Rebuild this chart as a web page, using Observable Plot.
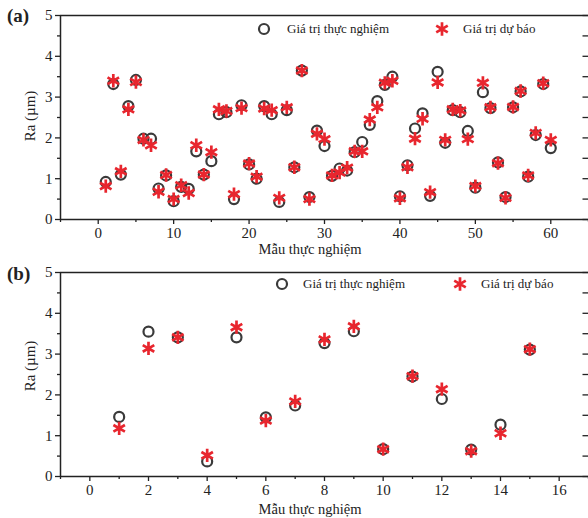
<!DOCTYPE html>
<html>
<head>
<meta charset="utf-8">
<script src="https://cdn.jsdelivr.net/npm/d3@7"></script>
<script src="https://cdn.jsdelivr.net/npm/@observablehq/plot@0.6"></script>
<style>
  body { margin: 0; background: #fff; }
  #wrap { position: relative; width: 588px; height: 518px; overflow: hidden; font-family: "Liberation Serif", "Times New Roman", serif; color: #222; }
  .panel { position: absolute; left: 0; }
  .tag { position: absolute; font-weight: bold; font-size: 19px; line-height: 20px; }
  .xl { position: absolute; font-size: 14.5px; line-height: 16px; width: 300px; text-align: center; }
  .yl { position: absolute; font-size: 15px; line-height: 16px; width: 100px; text-align: center; transform: rotate(-90deg); }
  .lg { position: absolute; font-size: 13px; line-height: 16px; white-space: nowrap; }
  .sym { position: absolute; }
</style>
</head>
<body>
<div id="wrap"></div>
<script>
// ---- Data ----
const seriesNames = ["Giá trị thực nghiệm", "Giá trị dự báo"];
const xLabel = "Mẫu thực nghiệm";
const yLabel = "Ra (µm)";

// Panel (a): samples 1..60
const expA = [0.92, 3.32, 1.10, 2.78, 3.42, 1.98, 1.98, 0.76, 1.08, 0.45,
              0.80, 0.75, 1.67, 1.10, 1.43, 2.58, 2.63, 0.50, 2.80, 1.35,
              1.00, 2.78, 2.58, 0.43, 2.68, 1.28, 3.65, 0.55, 2.18, 1.80,
              1.07, 1.25, 1.20, 1.65, 1.90, 2.32, 2.90, 3.30, 3.50, 0.57,
              1.33, 2.23, 2.60, 0.58, 3.62, 1.88, 2.68, 2.63, 2.17, 0.78,
              3.12, 2.73, 1.40, 0.55, 2.75, 3.14, 1.05, 2.07, 3.32, 1.75];
const predA = [0.82, 3.40, 1.18, 2.70, 3.37, 1.95, 1.82, 0.68, 1.09, 0.50,
               0.84, 0.65, 1.82, 1.10, 1.65, 2.70, 2.66, 0.62, 2.73, 1.37,
               1.05, 2.72, 2.68, 0.53, 2.75, 1.28, 3.65, 0.50, 2.10, 1.97,
               1.08, 1.15, 1.27, 1.67, 1.67, 2.45, 2.75, 3.35, 3.40, 0.52,
               1.28, 1.98, 2.47, 0.67, 3.36, 1.95, 2.70, 2.67, 1.97, 0.82,
               3.35, 2.75, 1.38, 0.53, 2.76, 3.15, 1.08, 2.12, 3.34, 1.95];

// Panel (b): samples 1..15
const sampleB = [1, 2, 3, 4, 5, 6, 7, 8, 9, 10, 11, 12, 13, 14, 15];
const expB  = [1.46, 3.55, 3.41, 0.37, 3.41, 1.45, 1.74, 3.27, 3.56, 0.67, 2.45, 1.90, 0.66, 1.27, 3.11];
const predB = [1.18, 3.14, 3.41, 0.52, 3.66, 1.37, 1.84, 3.36, 3.68, 0.67, 2.46, 2.14, 0.62, 1.06, 3.12];

// Axis ticks
const yTicks = [0, 1, 2, 3, 4, 5];
const yMinor = [0.5, 1.5, 2.5, 3.5, 4.5];
const xTicksA = [0, 10, 20, 30, 40, 50, 60];
const xMinorA = [-5, 5, 15, 25, 35, 45, 55, 65];
const xTicksB = [0, 2, 4, 6, 8, 10, 12, 14, 16];
const xMinorB = [-1, 1, 3, 5, 7, 9, 11, 13, 15, 17];

const xDomainA = [-5, 65];
const xDomainB = [-1, 17];
const yDomain = [0, 5];

const dataA = expA.map((v, i) => ({s: i + 1, exp: v, pred: predA[i]}));
const dataB = sampleB.map((s, i) => ({s, exp: expB[i], pred: predB[i]}));

const INK = "#222";
const CIRC = "#3a3a3a";
const RED = "#e8262e";

// inward tick glyph for the right-hand axis (a short line pointing left)
const inwardTick = {draw(ctx) { ctx.moveTo(0, 0); ctx.lineTo(-6, 0); }};

function panel(data, xDomain, xTicks, xMinor, top, bottom) {
  const rightTicks = yTicks.concat(yMinor).map(v => ({x: xDomain[1], y: v}));
  return Plot.plot({
    width: 588, height: 259,
    marginLeft: 60, marginRight: 0, marginTop: top, marginBottom: bottom,
    style: {fontFamily: "'Liberation Serif', 'Times New Roman', serif", fontSize: "15px", color: INK, background: "transparent", overflow: "visible"},
    x: {domain: xDomain},
    y: {domain: yDomain},
    marks: [
      Plot.axisX({ticks: xTicks, tickSize: 5, tickPadding: 3, tickFormat: d3.format("d"), label: null, strokeWidth: 1.3}),
      Plot.axisX({ticks: xMinor, tickSize: 3, text: null, label: null, strokeWidth: 1.3}),
      Plot.axisY({ticks: yTicks, tickSize: 5, tickPadding: 3, tickFormat: d3.format("d"), label: null, strokeWidth: 1.3}),
      Plot.axisY({ticks: yMinor, tickSize: 3, text: null, label: null, strokeWidth: 1.3}),
      Plot.dot(rightTicks, {x: "x", y: "y", symbol: inwardTick, r: 3, stroke: INK, strokeWidth: 1.3, fill: "none"}),
      Plot.ruleX([xDomain[0]], {stroke: INK, strokeWidth: 1.5}),
      Plot.ruleY([yDomain[0], yDomain[1]], {stroke: INK, strokeWidth: 1.5}),
      Plot.dot(data, {x: "s", y: "exp", r: 5, stroke: CIRC, strokeWidth: 2.2, fill: "none"}),
      Plot.dot(data, {x: "s", y: "pred", r: 6.3, symbol: "asterisk", stroke: RED, strokeWidth: 2.7})
    ]
  });
}

const wrap = document.getElementById("wrap");
const pA = panel(dataA, xDomainA, xTicksA, xMinorA, 15, 40);
pA.classList.add("panel"); pA.style.top = "0px";
const pB = panel(dataB, xDomainB, xTicksB, xMinorB, 13, 42);
pB.classList.add("panel"); pB.style.top = "259px";
wrap.appendChild(pA);
wrap.appendChild(pB);

function addDiv(cls, text, left, top) {
  const d = document.createElement("div");
  d.className = cls; d.textContent = text;
  d.style.left = left + "px"; d.style.top = top + "px";
  wrap.appendChild(d);
  return d;
}
function addSym(kind, cx, cy) {
  const ns = "http://www.w3.org/2000/svg";
  const s = document.createElementNS(ns, "svg");
  s.setAttribute("width", 18); s.setAttribute("height", 18);
  s.setAttribute("class", "sym");
  s.style.left = (cx - 9) + "px"; s.style.top = (cy - 9) + "px";
  if (kind === "circle") {
    const c = document.createElementNS(ns, "circle");
    c.setAttribute("cx", 9); c.setAttribute("cy", 9); c.setAttribute("r", 5);
    c.setAttribute("fill", "none"); c.setAttribute("stroke", CIRC); c.setAttribute("stroke-width", 2.2);
    s.appendChild(c);
  } else {
    const p = document.createElementNS(ns, "path");
    p.setAttribute("d", d3.symbol(d3.symbolAsterisk, Math.PI * 6.3 * 6.3)());
    p.setAttribute("transform", "translate(9,9)");
    p.setAttribute("fill", "none"); p.setAttribute("stroke", RED); p.setAttribute("stroke-width", 2.7);
    s.appendChild(p);
  }
  wrap.appendChild(s);
}

// Tags
addDiv("tag", "(a)", 7, 6);
addDiv("tag", "(b)", 7, 264);
// Axis labels
addDiv("xl", xLabel, 160, 241);
addDiv("xl", xLabel, 160, 501);
addDiv("yl", yLabel, -20, 108);
addDiv("yl", yLabel, -20, 358);
// Legends
addSym("circle", 264, 29);
addDiv("lg", seriesNames[0], 287, 21);
addSym("star", 442, 29);
addDiv("lg", seriesNames[1], 463, 21);
addSym("circle", 282, 284);
addDiv("lg", seriesNames[0], 303, 276);
addSym("star", 460, 284);
addDiv("lg", seriesNames[1], 481, 276);
</script>
</body>
</html>
